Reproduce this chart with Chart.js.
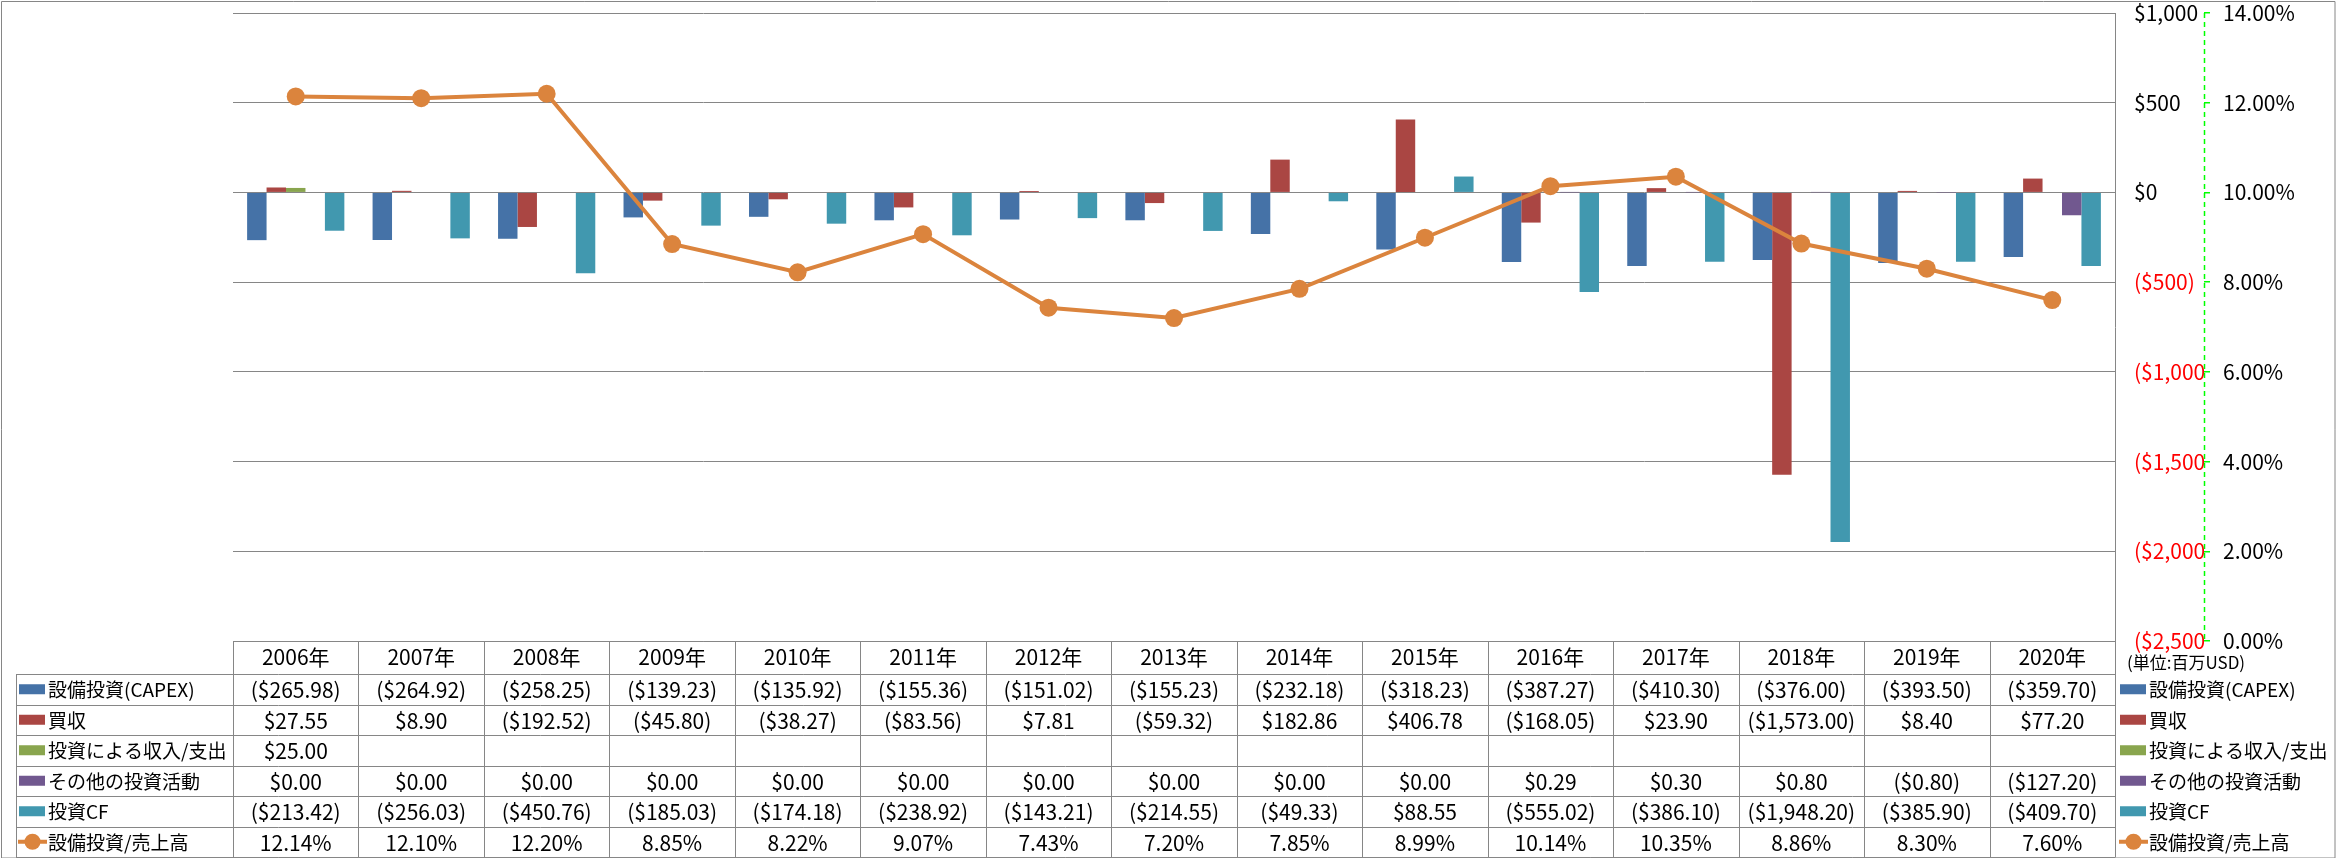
<!doctype html>
<html lang="ja">
<head>
<meta charset="utf-8">
<title>設備投資とキャッシュフロー</title>
<script src="https://cdn.jsdelivr.net/npm/chart.js@4.4.0/dist/chart.umd.min.js"></script>
<style>
  html, body { margin: 0; padding: 0; background: #fff; }
  canvas { display: block; }
</style>
</head>
<body>
<canvas id="myChart" width="2336" height="858"></canvas>

<script>
// data (百万USD)
const years = ["2006年", "2007年", "2008年", "2009年", "2010年", "2011年", "2012年", "2013年",
               "2014年", "2015年", "2016年", "2017年", "2018年", "2019年", "2020年"];
const capex = [-265.98, -264.92, -258.25, -139.23, -135.92, -155.36, -151.02, -155.23,
               -232.18, -318.23, -387.27, -410.30, -376.00, -393.50, -359.70];
const acquisitions = [27.55, 8.90, -192.52, -45.80, -38.27, -83.56, 7.81, -59.32,
                      182.86, 406.78, -168.05, 23.90, -1573.00, 8.40, 77.20];
const investIncome = [25.00, null, null, null, null, null, null, null,
                      null, null, null, null, null, null, null];
const otherInvest = [0, 0, 0, 0, 0, 0, 0, 0, 0, 0, 0.29, 0.30, 0.80, -0.80, -127.20];
const investCF = [-213.42, -256.03, -450.76, -185.03, -174.18, -238.92, -143.21, -214.55,
                  -49.33, 88.55, -555.02, -386.10, -1948.20, -385.90, -409.70];
const capexRatio = [12.14, 12.10, 12.20, 8.85, 8.22, 9.07, 7.43, 7.20,
                    7.85, 8.99, 10.14, 10.35, 8.86, 8.30, 7.60];
const unitNote = "(単位:百万USD)";

const FONT = "'Liberation Sans Narrow', 'Noto Sans CJK JP', sans-serif";
const GRID = "#868686";
const GREEN = "#00FF00";

function money(v, digits) {
  if (v === null || v === undefined) return "";
  const s = "$" + Math.abs(v).toLocaleString("en-US", {minimumFractionDigits: digits, maximumFractionDigits: digits});
  return v < 0 ? "(" + s + ")" : s;
}
function pct(v) {
  return v === null ? "" : v.toFixed(2) + "%";
}

// table under the plot + legend at the right, drawn from the x scale
const tablePlugin = {
  id: "dataTable",
  afterDraw(chart) {
    const ctx = chart.ctx;
    const xs = chart.scales.x;
    const y1 = chart.scales.y1;
    const area = chart.chartArea;
    const half = (xs.getPixelForValue(1) - xs.getPixelForValue(0)) / 2;
    const headerH = 33, rowH = 30.5;
    const labelLeft = 16;
    const sets = chart.data.datasets;
    const edges = [area.bottom, area.bottom + headerH];
    sets.forEach((d, i) => edges.push(area.bottom + headerH + (i + 1) * rowH));
    const px = v => Math.round(v) + 0.5;

    ctx.save();
    // dashed axis line of the percent scale
    ctx.strokeStyle = GREEN;
    ctx.lineWidth = 1.5;
    ctx.setLineDash([5, 4]);
    ctx.beginPath();
    ctx.moveTo(px(y1.left), y1.top);
    ctx.lineTo(px(y1.left), y1.bottom);
    ctx.stroke();
    ctx.setLineDash([]);

    ctx.strokeStyle = GRID;
    ctx.lineWidth = 1;
    ctx.beginPath();
    // horizontal lines
    ctx.moveTo(area.left, px(edges[0]));
    ctx.lineTo(area.right, px(edges[0]));
    for (let r = 1; r < edges.length; r++) {
      ctx.moveTo(labelLeft, px(edges[r]));
      ctx.lineTo(area.right, px(edges[r]));
    }
    // vertical lines
    ctx.moveTo(px(labelLeft), px(edges[1]));
    ctx.lineTo(px(labelLeft), px(edges[edges.length - 1]));
    for (let i = 0; i <= years.length; i++) {
      const xx = i < years.length ? xs.getPixelForValue(i) - half : xs.getPixelForValue(i - 1) + half;
      ctx.moveTo(px(xx), px(edges[0]));
      ctx.lineTo(px(xx), px(edges[edges.length - 1]));
    }
    // outer border of the chart
    ctx.rect(1.5, 1.5, chart.width - 2.5, chart.height - 1.5);
    ctx.stroke();

    ctx.textBaseline = "middle";
    ctx.fillStyle = "#000";
    ctx.font = "21px " + FONT;
    ctx.textAlign = "center";
    years.forEach((y, i) => {
      ctx.fillText(y, xs.getPixelForValue(i), (edges[0] + edges[1]) / 2);
    });

    sets.forEach((d, r) => {
      const cy = (edges[r + 1] + edges[r + 2]) / 2;
      const isPct = d.yAxisID === "y1";
      ctx.font = "21px " + FONT;
      ctx.textAlign = "center";
      ctx.fillStyle = "#000";
      d.data.forEach((v, i) => {
        ctx.fillText(isPct ? pct(v) : money(v, 2), xs.getPixelForValue(i), cy + 1);
      });
      // legend keys: in the table and at the right
      [labelLeft + 3, area.right + 5].forEach(kx => {
        if (d.type === "line") {
          ctx.strokeStyle = d.borderColor;
          ctx.lineWidth = 4;
          ctx.beginPath();
          ctx.moveTo(kx - 1, cy);
          ctx.lineTo(kx + 28, cy);
          ctx.stroke();
          ctx.fillStyle = d.borderColor;
          ctx.beginPath();
          ctx.arc(kx + 13.5, cy, 8, 0, Math.PI * 2);
          ctx.fill();
        } else {
          ctx.fillStyle = d.backgroundColor;
          ctx.fillRect(kx, cy - 5, 26, 10);
        }
        ctx.fillStyle = "#000";
        ctx.font = "19px " + FONT;
        ctx.textAlign = "left";
        ctx.fillText(d.label, kx + 29, cy + 1);
      });
    });

    ctx.font = "17px " + FONT;
    ctx.textAlign = "left";
    ctx.fillStyle = "#000";
    ctx.fillText(unitNote, area.right + 12, edges[0] + 22);
    ctx.restore();
  }
};

const ctx = document.getElementById("myChart").getContext("2d");
Chart.defaults.font.family = FONT;
Chart.defaults.font.size = 21;
Chart.defaults.color = "#000";

// keep the label padding from pushing the plot area down
function fixWidth(w) {
  return s => { s.width = w; s.paddingTop = 0; s.paddingBottom = 0; };
}

const chart = new Chart(ctx, {
  data: {
    labels: years,
    datasets: [
      {type: "bar", label: "設備投資(CAPEX)", data: capex, backgroundColor: "#4572A7", yAxisID: "y", order: 1},
      {type: "bar", label: "買収", data: acquisitions, backgroundColor: "#AA4643", yAxisID: "y", order: 1},
      {type: "bar", label: "投資による収入/支出", data: investIncome, backgroundColor: "#89A54E", yAxisID: "y", order: 1},
      {type: "bar", label: "その他の投資活動", data: otherInvest, backgroundColor: "#71588F", yAxisID: "y", order: 1},
      {type: "bar", label: "投資CF", data: investCF, backgroundColor: "#4198AF", yAxisID: "y", order: 1},
      {type: "line", label: "設備投資/売上高", data: capexRatio, borderColor: "#DB843D", backgroundColor: "#DB843D",
       borderWidth: 4, pointRadius: 9, pointHoverRadius: 9, pointBorderWidth: 0, tension: 0, yAxisID: "y1", order: 0}
    ]
  },
  options: {
    responsive: false,
    animation: false,
    layout: {padding: {left: 233, top: 13, bottom: 217, right: 0}},
    datasets: {bar: {categoryPercentage: 0.775, barPercentage: 1.0, borderWidth: 0}},
    plugins: {legend: {display: false}, tooltip: {enabled: false}},
    scales: {
      x: {display: false, offset: true},
      y: {
        position: "right",
        min: -2500, max: 1000,
        ticks: {
          stepSize: 500,
          padding: 19,
          callback: v => money(v, 0),
          color: c => c.tick.value < 0 ? "#FF0000" : "#000"
        },
        grid: {color: GRID, lineWidth: 1, drawTicks: false},
        border: {display: true, color: GRID},
        afterFit: fixWidth(89)
      },
      y1: {
        position: "right",
        min: 0, max: 14,
        ticks: {stepSize: 2, padding: 13, callback: v => v.toFixed(2) + "%"},
        grid: {drawOnChartArea: false, color: GREEN, tickLength: 6, lineWidth: 1.5},
        border: {display: false},
        afterFit: fixWidth(132)
      }
    }
  },
  plugins: [tablePlugin]
});
</script>
</body>
</html>
